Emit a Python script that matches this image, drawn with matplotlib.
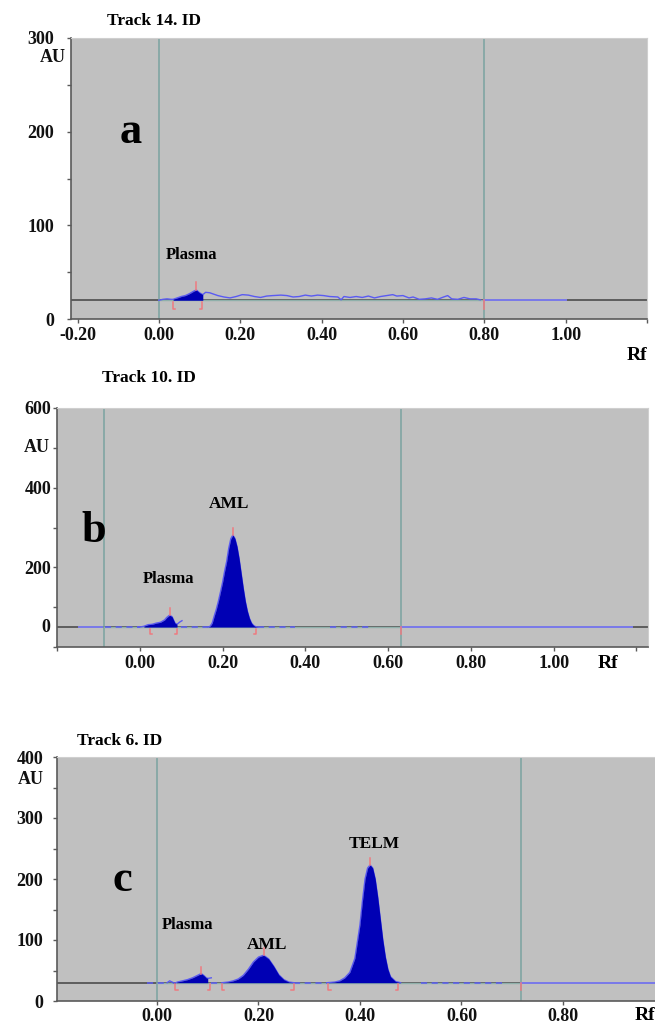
import matplotlib
matplotlib.use('Agg')
import matplotlib.pyplot as plt
import matplotlib.transforms as mtransforms
import numpy as np

# ---- panel a : Track 14 (blank plasma) ----
a_rf = [0.00, 0.01, 0.02, 0.03, 0.035, 0.045, 0.055, 0.065, 0.075, 0.085, 0.092,
        0.10, 0.108, 0.115, 0.125, 0.135, 0.145, 0.16, 0.175, 0.19, 0.205, 0.22,
        0.235, 0.25, 0.265, 0.28, 0.30, 0.315, 0.33, 0.345, 0.36, 0.375, 0.39,
        0.405, 0.42, 0.44, 0.448, 0.455, 0.47, 0.485, 0.50, 0.515, 0.53, 0.545,
        0.56, 0.575, 0.585, 0.60, 0.615, 0.625, 0.64, 0.655, 0.67, 0.685, 0.70,
        0.71, 0.72, 0.735, 0.75, 0.765, 0.78, 0.79]
a_au = [20, 21, 21.5, 21, 21, 22.5, 24, 25, 27, 29.5, 31,
        28, 26, 28.5, 28, 26.5, 25, 23.5, 22.5, 24, 26, 25.5,
        24, 23, 24.5, 25, 25.5, 25, 23.5, 24, 25.5, 24.5, 25.5,
        25, 24, 23.5, 20.5, 24, 23, 24, 23, 24.5, 22.5, 24,
        25, 26, 24.5, 25, 22.5, 23.5, 21, 21.5, 22.5, 21, 23.5,
        25, 21.5, 21, 23, 21.5, 21.5, 20.5]
a_base = 20
a_peaks = [(0.035, 0.108)]
a_apex = [(0.092, 31)]
a_front = [0.0, 0.80]
a_flat = [(0.80, 1.00)]
a_dash = []
a_brackets = [(0.035, 1), (0.105, -1), (0.80, 0)]

# ---- panel b : Track 10 (plasma + AML) ----
b_rf = [-0.005, 0.00, 0.01, 0.02, 0.03, 0.04, 0.05, 0.06, 0.065, 0.072, 0.078,
        0.085, 0.09, 0.097, 0.102]
b_au = [50, 50, 52, 56, 57, 60, 62, 68, 74, 80, 76,
        60, 57, 63, 66]
b_aml_rf = [0.165, 0.17, 0.175, 0.18, 0.185, 0.19, 0.195, 0.20, 0.205, 0.21,
            0.215, 0.22, 0.225, 0.23, 0.235, 0.24, 0.245, 0.25, 0.255, 0.26,
            0.265, 0.27, 0.275, 0.28, 0.285]
b_aml_au = [50, 52, 60, 78, 95, 115, 138, 162, 190, 215,
            248, 272, 281, 272, 252, 222, 185, 148, 115, 90,
            72, 60, 54, 51, 50]
b_base = 50
b_peaks = [(0.01, 0.095), (0.165, 0.285)]
b_apex = [(0.072, 80), (0.225, 281)]
b_front = [-0.087, 0.63]
b_flat = [(-0.147, -0.092), (0.63, 1.19)]
b_dash = [(-0.085, 0.0), (0.10, 0.165), (0.285, 0.375), (0.46, 0.555)]
b_brackets = [(0.025, 1), (0.091, -1), (0.28, -1), (0.63, 0)]

# ---- panel c : Track 6 (plasma + AML + TELM) ----
c_pl_rf = [0.02, 0.025, 0.03, 0.035, 0.04, 0.05, 0.06, 0.07, 0.08, 0.087,
           0.092, 0.097, 0.10, 0.107]
c_pl_au = [30, 33, 31, 29, 31, 33, 35, 38, 42, 45,
           42, 38, 37, 38]
c_aml_rf = [0.128, 0.14, 0.15, 0.16, 0.17, 0.18, 0.19, 0.20, 0.21, 0.22,
            0.23, 0.24, 0.25, 0.26, 0.27]
c_aml_au = [30, 31, 33, 36, 42, 52, 64, 72, 75, 69,
            57, 43, 35, 31, 30]
c_tel_rf = [0.335, 0.35, 0.36, 0.37, 0.38, 0.39, 0.40, 0.405, 0.41, 0.415,
            0.42, 0.425, 0.43, 0.435, 0.44, 0.445, 0.45, 0.455, 0.46, 0.47, 0.48]
c_tel_au = [30, 31, 33, 38, 47, 70, 125, 165, 200, 218,
            223, 218, 200, 170, 135, 100, 72, 52, 40, 32, 30]
c_base = 30
c_peaks = [(0.03, 0.105), (0.128, 0.27), (0.335, 0.48)]
c_apex = [(0.087, 45), (0.21, 75), (0.42, 223)]
c_front = [0.0, 0.717]
c_flat = [(0.717, 1.0)]
c_dash = [(-0.02, 0.02), (0.107, 0.128), (0.27, 0.335), (0.52, 0.68)]
c_brackets = [(0.036, 1), (0.105, -1), (0.128, 1), (0.27, -1), (0.337, 1),
              (0.475, -1), (0.717, 0)]

BG = '#c0c0c0'
FILL = '#0000b4'
TRACE = '#5a5af2'
FLAT = '#7b7bec'
FRONT = '#7aa3a0'
RED = '#ee7a80'
SPINE = '#5a5a5a'

plt.rcParams['font.family'] = ['Liberation Serif', 'DejaVu Serif']
plt.rcParams['font.weight'] = 'bold'

W, H = 655, 1027
fig = plt.figure(figsize=(W / 100, H / 100), dpi=100)


def box(l, t, r, b):
    return [l / W, 1 - b / H, (r - l) / W, (b - t) / H]


def setup(ax, xlim, ylim, major_y, minor_y, xticks, xlabels, ypad, xpad):
    ax.set_facecolor(BG)
    ax.set_xlim(*xlim)
    ax.set_ylim(*ylim)
    for s in ['top', 'right']:
        ax.spines[s].set_color('#cfcfcf')
        ax.spines[s].set_linewidth(0.8)
    for s in ['left', 'bottom']:
        ax.spines[s].set_color(SPINE)
        ax.spines[s].set_linewidth(1.2)
    ax.set_yticks(major_y)
    ax.set_yticks(minor_y, minor=True)
    ax.set_xticks(xticks)
    ax.set_xticklabels(xlabels)
    ax.tick_params(axis='both', which='both', direction='out', length=3,
                   width=1, color=SPINE, labelsize=13, labelcolor='#111111')
    ax.tick_params(axis='y', pad=ypad)
    ax.tick_params(axis='x', pad=xpad)


def draw_marks(ax, base, front, flat, dash, brackets, apex, yr):
    ax.axhline(base, color='#555555', lw=1.3, zorder=1)
    ax.plot([front[0], front[1]], [base, base], color='#8fb0aa', lw=1, zorder=2)
    for x in front:
        ax.axvline(x, color=FRONT, lw=1.1, zorder=1)
    for x0, x1 in flat:
        ax.plot([x0, x1], [base, base], color=FLAT, lw=1.4, zorder=3)
    for x0, x1 in dash:
        ax.plot([x0, x1], [base, base], color=TRACE, lw=1.1,
                ls=(0, (4, 3)), zorder=3)
    dy = yr * 0.03
    for x, side in brackets:
        if side == 0:
            ax.plot([x, x], [base, base - dy], color=RED, lw=1.1, zorder=4)
        else:
            ax.plot([x + side * 0.005, x, x], [base - dy, base - dy, base - 0.2 * dy],
                    color=RED, lw=1.1, zorder=4)
    for x, y in apex:
        ax.plot([x, x], [y, y + yr * 0.028], color=RED, lw=1.1, zorder=4)


def draw_peak(ax, rf, au, base, rng):
    rf = np.array(rf)
    au = np.array(au)
    ax.plot(rf, au, color=TRACE, lw=1.0, zorder=3)
    m = (rf >= rng[0] - 1e-9) & (rf <= rng[1] + 1e-9)
    ax.fill_between(rf, base, au, where=m, color=FILL, lw=0, zorder=3)


def ylab(ax, y, text, x=-0.012, ha='right'):
    tr = mtransforms.blended_transform_factory(ax.transAxes, ax.transData)
    ax.text(x, y, text, transform=tr, ha=ha, va='center', fontsize=13,
            color='#111111')


ticks_ab = [-0.2, 0.0, 0.2, 0.4, 0.6, 0.8, 1.0, 1.2]

# ---------------- panel a ----------------
ax = fig.add_axes(box(71, 38, 647, 319))
setup(ax, (-0.216, 1.139), (0, 300), [0, 100, 200, 300], [50, 150, 250],
      ticks_ab, ['-0.20', '0.00', '0.20', '0.40', '0.60', '0.80', '1.00', ''],
      9, 3)
draw_marks(ax, a_base, a_front, a_flat, a_dash, a_brackets, a_apex, 300)
draw_peak(ax, a_rf, a_au, a_base, a_peaks[0])
ax.text(-0.07, 200, 'a', fontsize=32, ha='center', va='center')
ax.text(0.08, 68, 'Plasma', fontsize=12, ha='center', va='center')
ylab(ax, 279, 'AU', x=-0.031, ha='center')
fig.text(107 / W, 1 - 21 / H, 'Track 14. ID', fontsize=12.5, va='center')
fig.text(637 / W, 1 - 355 / H, 'Rf', fontsize=14, ha='center', va='center')

# ---------------- panel b ----------------
ax = fig.add_axes(box(57, 408, 648, 647))
setup(ax, (-0.189, 1.228), (0, 600), [200, 400, 600], [0, 100, 300, 500],
      ticks_ab, ['', '0.00', '0.20', '0.40', '0.60', '0.80', '1.00', ''],
      1, 3)
draw_marks(ax, b_base, b_front, b_flat, b_dash, b_brackets, b_apex, 600)
draw_peak(ax, b_rf, b_au, b_base, b_peaks[0])
draw_peak(ax, b_aml_rf, b_aml_au, b_base, b_peaks[1])
ylab(ax, 50, '0')
ylab(ax, 500, 'AU')
ax.text(-0.11, 290, 'b', fontsize=32, ha='center', va='center')
ax.text(0.07, 170, 'Plasma', fontsize=12, ha='center', va='center')
ax.text(0.215, 360, 'AML', fontsize=12.5, ha='center', va='center')
fig.text(102 / W, 1 - 378 / H, 'Track 10. ID', fontsize=12.5, va='center')
fig.text(608 / W, 1 - 663 / H, 'Rf', fontsize=14, ha='center', va='center')

# ---------------- panel c ----------------
ax = fig.add_axes(box(57, 757, 665, 1001))
setup(ax, (-0.197, 1.001), (0, 400), [0, 100, 200, 300, 400], [50, 150, 250, 350],
      [0.0, 0.2, 0.4, 0.6, 0.8, 1.0], ['0.00', '0.20', '0.40', '0.60', '0.80', ''],
      7, 2)
draw_marks(ax, c_base, c_front, c_flat, c_dash, c_brackets, c_apex, 400)
draw_peak(ax, c_pl_rf, c_pl_au, c_base, c_peaks[0])
draw_peak(ax, c_aml_rf, c_aml_au, c_base, c_peaks[1])
draw_peak(ax, c_tel_rf, c_tel_au, c_base, c_peaks[2])
ylab(ax, 363, 'AU', x=-0.043, ha='center')
ax.text(-0.068, 199, 'c', fontsize=32, ha='center', va='center')
ax.text(0.061, 124, 'Plasma', fontsize=12, ha='center', va='center')
ax.text(0.216, 92, 'AML', fontsize=12.5, ha='center', va='center')
ax.text(0.428, 258, 'TELM', fontsize=12.5, ha='center', va='center')
fig.text(77 / W, 1 - 741 / H, 'Track 6. ID', fontsize=12.5, va='center')
fig.text(645 / W, 1 - 1016 / H, 'Rf', fontsize=14, ha='center', va='center')

fig.savefig('out.png', dpi=100, facecolor='white')
